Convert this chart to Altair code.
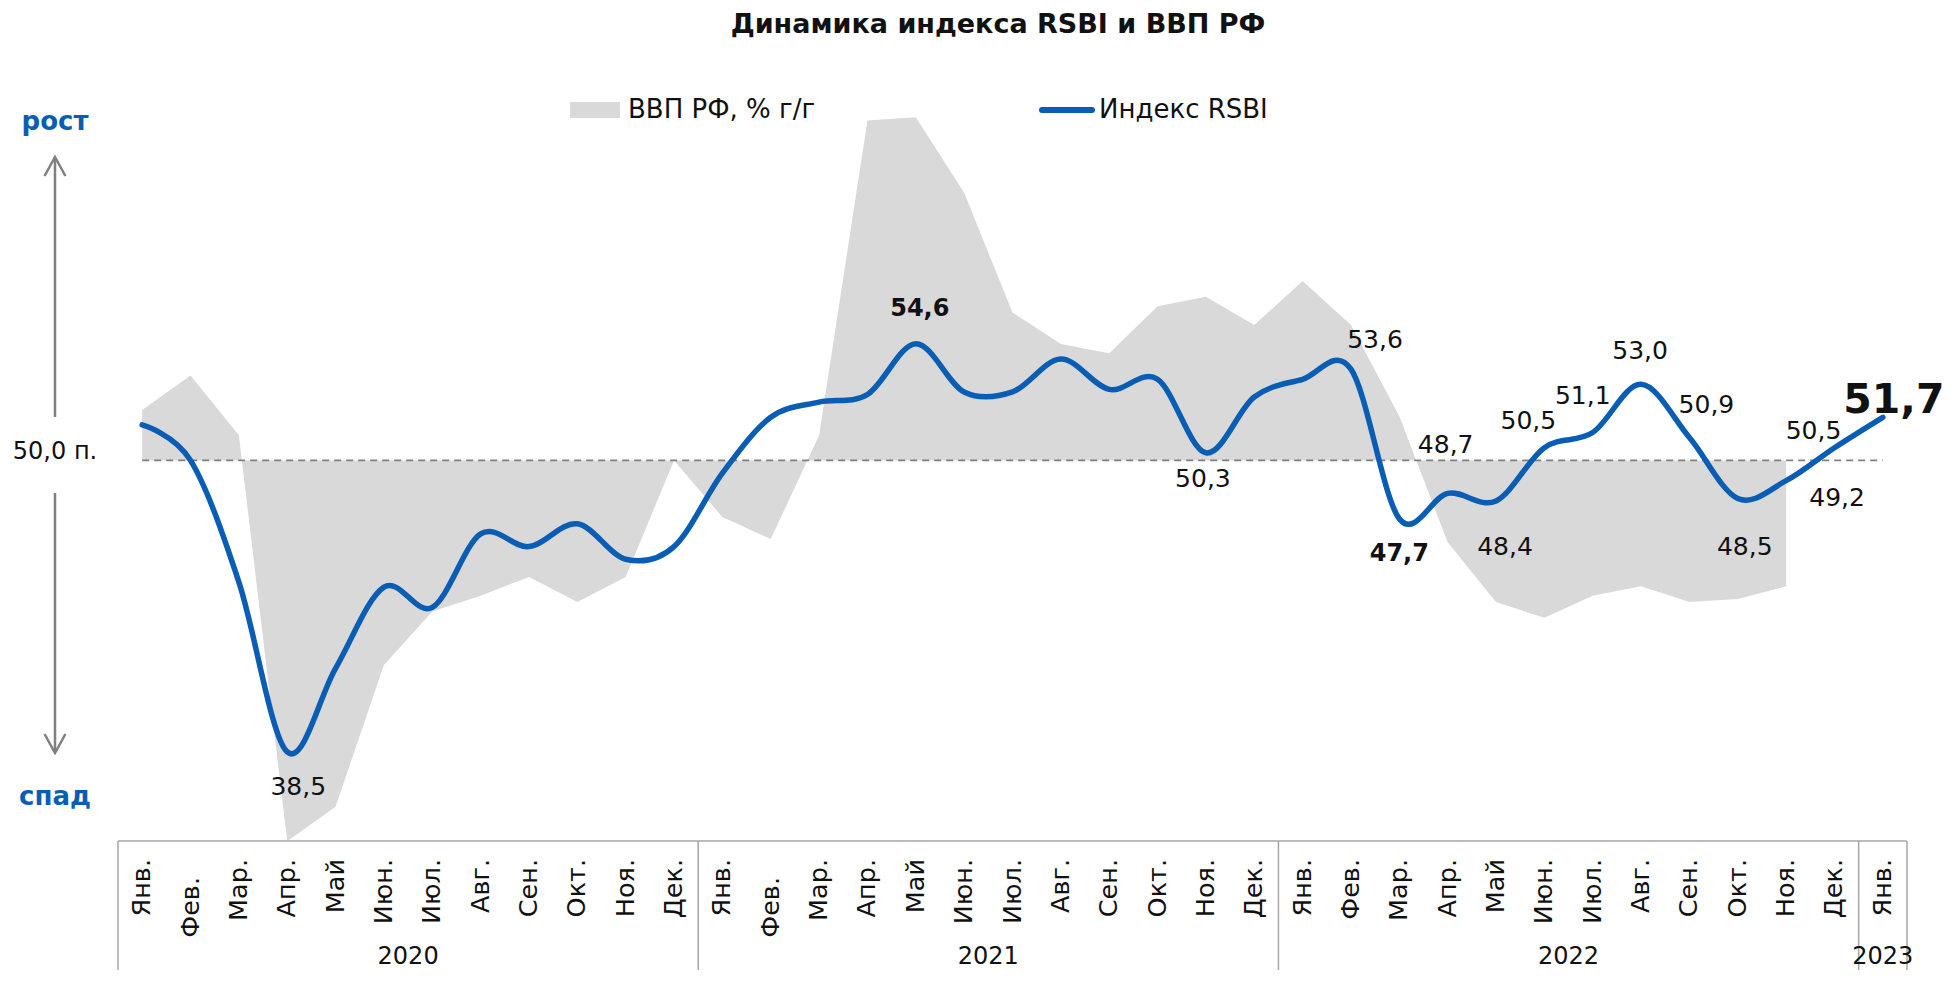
import altair as alt
import pandas as pd

# ---------------- data ----------------
MONTH_NAMES = ["Янв.", "Фев.", "Мар.", "Апр.", "Май", "Июн.", "Июл.", "Авг.",
               "Сен.", "Окт.", "Ноя.", "Дек."]
YEARS = ["2020", "2021", "2022", "2023"]
MONTHS_IN_YEAR = [12, 12, 12, 1]

# Индекс RSBI, monthly Jan-2020 .. Jan-2023
RSBI = [51.4, 50.0, 45.2, 38.5, 41.8, 45.0, 44.2, 47.1, 46.6, 47.5, 46.1, 46.6,
        49.5, 51.7, 52.3, 52.6, 54.6, 52.7, 52.7, 54.0, 52.8, 53.2, 50.3, 52.5,
        53.2, 53.6, 47.7, 48.7, 48.4, 50.5, 51.1, 53.0, 50.9, 48.5, 49.2, 50.5,
        51.7]
# ВВП РФ, % г/г, monthly Jan-2020 .. Nov-2022
GDP = [1.6, 2.7, 0.8, -12.1, -11.0, -6.5, -4.8, -4.3, -3.7, -4.5, -3.7, 0.0,
       -1.8, -2.5, 0.8, 10.8, 10.9, 8.5, 4.7, 3.7, 3.4, 4.9, 5.2, 4.3,
       5.7, 4.3, 1.4, -2.6, -4.5, -5.0, -4.3, -4.0, -4.5, -4.4, -4.0]
NEUTRAL = 50.0
LABELED = [3, 16, 22, 25, 26, 27, 28, 29, 30, 31, 32, 33, 34, 35, 36]
BOLD = [16, 26]
HIGHLIGHT = [36]
SERIES = ["ВВП РФ, % г/г", "Индекс RSBI"]
TITLE = "Динамика индекса RSBI и ВВП РФ"

# ---------------- styling ----------------
FONT = "DejaVu Sans"
BLUE = "#0a5db5"
GREY_AREA = "#d9d9d9"
GREY_LINE = "#808080"
FRAME = "#a6a6a6"
TXT = "#111111"
W, H = 1935, 962

# label offsets (px) relative to the point
OFFS = {3: (11, 35), 16: (4, -35), 22: (-3, 26), 25: (24, -29), 26: (0, 35),
        27: (-2, -48), 28: (9, 46), 29: (-16, -27), 30: (-10, -37),
        31: (-1, -33), 32: (17, -33), 33: (7, 49), 34: (51, 17),
        35: (-21, -17), 36: (11, -16)}

# ---------------- tables ----------------
rows = []
i = 0
for y, n in zip(YEARS, MONTHS_IN_YEAR):
    for m in range(n):
        rows.append({
            "idx": i,
            "month": MONTH_NAMES[m],
            "year": y,
            "rsbi": RSBI[i],
            "gdp": GDP[i] if i < len(GDP) else None,
            "label": f"{RSBI[i]:.1f}".replace(".", ","),
        })
        i += 1
df = pd.DataFrame(rows)

yr = df.groupby("year")["idx"].agg(["min", "max"]).reset_index()
yr["center"] = (yr["min"] + yr["max"]) / 2
bounds = pd.DataFrame({"b": list(yr["min"] - 0.5) + [df["idx"].max() + 0.5]})
span = pd.DataFrame({"start": [df["idx"].min()], "end": [df["idx"].max()],
                     "lo": [df["idx"].min() - 0.5], "hi": [df["idx"].max() + 0.5],
                     "level": [NEUTRAL]})

XS = alt.Scale(domain=[-0.5, 36.5], range=[110, 1899], nice=False, zero=False)
YR = alt.Scale(domain=[30, 60], range=[959.4, 198.9], nice=False, zero=False)
YG = alt.Scale(domain=[-15, 15], range=[924.6, -19.8], nice=False, zero=False)

base = alt.Chart(df)
xenc = alt.X("idx:Q", scale=XS, axis=None)

area = base.transform_filter("isValid(datum.gdp)").mark_area(
    color=GREY_AREA, interpolate="linear").encode(
    x=xenc, y=alt.Y("gdp:Q", scale=YG, axis=None), y2=alt.datum(0))

neutral = alt.Chart(span).mark_rule(
    color=GREY_LINE, strokeWidth=1.8, strokeDash=[7, 5]).encode(
    x=alt.X("start:Q", scale=XS, axis=None), x2="end:Q",
    y=alt.Y("level:Q", scale=YR, axis=None))

line = base.mark_line(color=BLUE, strokeWidth=5.5, interpolate="cardinal",
                      strokeCap="round", strokeJoin="round").encode(
    x=xenc, y=alt.Y("rsbi:Q", scale=YR, axis=None))

labels = []
for k in LABELED:
    dx, dy = OFFS[k]
    if k in HIGHLIGHT:
        fs, fw = 41, "bold"
    elif k in BOLD:
        fs, fw = 24, "bold"
    else:
        fs, fw = 25, "normal"
    labels.append(base.transform_filter(f"datum.idx == {k}").mark_text(
        dx=dx, dy=dy, fontSize=fs, fontWeight=fw, font=FONT, color=TXT,
        baseline="middle", align="center").encode(
        x=xenc, y=alt.Y("rsbi:Q", scale=YR, axis=None), text="label:N"))

# category axis (two-level)
top_rule = alt.Chart(span).mark_rule(color=FRAME, strokeWidth=1.5).encode(
    x=alt.X("lo:Q", scale=XS, axis=None), x2="hi:Q", y=alt.value(833))
sep_rules = alt.Chart(bounds).mark_rule(color=FRAME, strokeWidth=1.5).encode(
    x=alt.X("b:Q", scale=XS, axis=None), y=alt.value(833), y2=alt.value(H))
month_lbl = base.transform_filter("datum.idx != 1 && datum.idx != 13").mark_text(
    angle=270, align="right", baseline="middle", fontSize=25.5, font=FONT,
    color=TXT).encode(x=xenc, y=alt.value(851), text="month:N")
month_lbl2 = base.transform_filter("datum.idx == 1 || datum.idx == 13").mark_text(
    angle=270, align="right", baseline="middle", fontSize=25.5, font=FONT,
    color=TXT).encode(x=xenc, y=alt.value(869), text="month:N")
year_lbl = alt.Chart(yr).mark_text(
    align="center", baseline="bottom", fontSize=24, font=FONT,
    color=TXT).encode(x=alt.X("center:Q", scale=XS, axis=None),
                      y=alt.value(H - 1), text="year:N")

# title, legend, side annotations
ann = pd.DataFrame({"t": [TITLE]})
title = alt.Chart(ann).mark_text(fontSize=27, fontWeight="bold", font=FONT,
                                 color=TXT, align="center", baseline="middle").encode(
    x=alt.value(990), y=alt.value(17), text="t:N")

leg = pd.DataFrame({"gdp": [SERIES[0]], "rsbi": [SERIES[1]]})
leg_rect = alt.Chart(leg).mark_rect(color=GREY_AREA).encode(
    x=alt.value(562), x2=alt.value(612), y=alt.value(94), y2=alt.value(110))
leg_t1 = alt.Chart(leg).mark_text(fontSize=26, font=FONT, color=TXT, align="left",
                                  baseline="middle").encode(
    x=alt.value(620), y=alt.value(102), text="gdp:N")
leg_line = alt.Chart(leg).mark_rule(color=BLUE, strokeWidth=6, strokeCap="round").encode(
    x=alt.value(1034), x2=alt.value(1084), y=alt.value(102))
leg_t2 = alt.Chart(leg).mark_text(fontSize=26, font=FONT, color=TXT, align="left",
                                  baseline="middle").encode(
    x=alt.value(1091), y=alt.value(102), text="rsbi:N")

side = pd.DataFrame({"up": ["рост"], "down": ["спад"], "mid": ["50,0 п."]})
t_up = alt.Chart(side).mark_text(fontSize=26, fontWeight="bold", font=FONT, color=BLUE,
                                 align="center", baseline="middle").encode(
    x=alt.value(47), y=alt.value(114), text="up:N")
t_down = alt.Chart(side).mark_text(fontSize=26, fontWeight="bold", font=FONT, color=BLUE,
                                   align="center", baseline="middle").encode(
    x=alt.value(47), y=alt.value(789), text="down:N")
t_mid = alt.Chart(side).mark_text(fontSize=24, font=FONT, color=TXT,
                                  align="center", baseline="middle").encode(
    x=alt.value(47), y=alt.value(444), text="mid:N")
shaft_up = alt.Chart(side).mark_rule(color=GREY_LINE, strokeWidth=2.5).encode(
    x=alt.value(47), y=alt.value(409), y2=alt.value(151))
shaft_dn = alt.Chart(side).mark_rule(color=GREY_LINE, strokeWidth=2.5).encode(
    x=alt.value(47), y=alt.value(485), y2=alt.value(743))
head_up = alt.Chart(side).mark_point(shape="M-0.55,1L0,0L0.55,1", size=1444,
                                     filled=False, color=GREY_LINE, strokeWidth=2.5,
                                     opacity=1).encode(
    x=alt.value(47), y=alt.value(149))
head_dn = alt.Chart(side).mark_point(shape="M-0.55,-1L0,0L0.55,-1", size=1444,
                                     filled=False, color=GREY_LINE, strokeWidth=2.5,
                                     opacity=1).encode(
    x=alt.value(47), y=alt.value(745))

chart = alt.layer(
    area, neutral, line, *labels,
    top_rule, sep_rules, month_lbl, month_lbl2, year_lbl,
    title, leg_rect, leg_t1, leg_line, leg_t2,
    t_up, t_down, t_mid, shaft_up, shaft_dn, head_up, head_dn,
).resolve_scale(y="independent").properties(
    width=W, height=H, padding=0,
    autosize=alt.AutoSizeParams(type="none"),
).configure_view(strokeWidth=0)

chart.save("out.html", embed_options={"renderer": "svg", "actions": False})
